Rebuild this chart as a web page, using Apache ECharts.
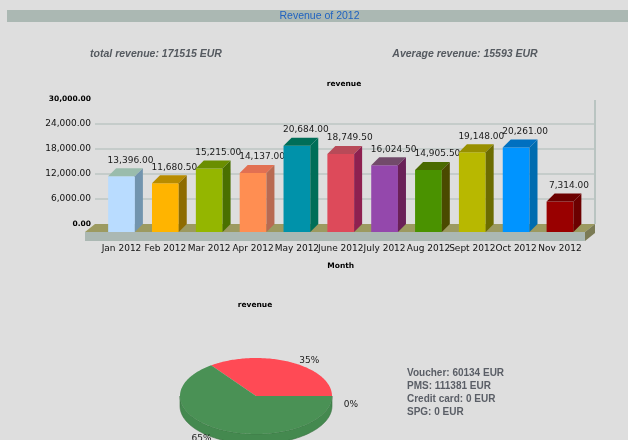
<!DOCTYPE html>
<html>
<head>
<meta charset="utf-8">
<title>Revenue of 2012</title>
<script src="https://cdn.jsdelivr.net/npm/echarts@6.0.0/dist/echarts.min.js"></script>
<style>
  html, body { margin: 0; padding: 0; background: #dedede; }
  #chart { width: 628px; height: 440px; }
</style>
</head>
<body>
<div id="chart"></div>
<script>
// monthly revenue (bar chart)
const months = ['Jan 2012', 'Feb 2012', 'Mar 2012', 'Apr 2012', 'May 2012', 'June 2012',
  'July 2012', 'Aug 2012', 'Sept 2012', 'Oct 2012', 'Nov 2012']
const revenue = [13396, 11680.5, 15215, 14137, 20684, 18749.5, 16024.5, 14905.5, 19148, 20261, 7314]
const yMin = 0
const yMax = 30000
const yStep = 6000

// revenue by payment type (pie)
const payTypes = ['Voucher', 'PMS', 'Credit card', 'SPG']
const payRevenue = [60134, 111381, 0, 0]

const headerTexts = ['total revenue: 171515 EUR', 'Average revenue: 15593 EUR']

// front / top / side colours of each 3d bar
const barPalette = [
  ['#b9dcff', '#9abcac', '#7294ae'],
  ['#ffb400', '#b88c00', '#8e6c00'],
  ['#94b600', '#6a8e00', '#4a7000'],
  ['#ff8e52', '#e27052', '#b86a52'],
  ['#0092aa', '#006e58', '#006e58'],
  ['#dd4a5a', '#b84a58', '#8e2050'],
  ['#9448ac', '#724a6a', '#6a2058'],
  ['#4a9200', '#4a6a00', '#4a4a00'],
  ['#b8b800', '#989000', '#6c6c00'],
  ['#0094ff', '#0070c0', '#006cb0'],
  ['#990000', '#6c0000', '#6c0000']
]
const pieColors = ['#ff4a55', '#4a9155', '#4a6fc4', '#e0a000']
const pieSideColors = ['#d83c46', '#44894f', '#3e5ea8', '#b88400']

const D = 8 // bar depth in px
const fmt = v => v.toFixed(2).replace(/\B(?=(\d{3})+(?!\d))/g, ',')

const chart = echarts.init(document.getElementById('chart'))

const renderBar = (params, api) => {
  const v = api.value(1)
  const top = api.coord([api.value(0), v])
  const base = api.coord([api.value(0), 0])
  const w = api.size([1, 0])[0] * 0.61
  const x0 = top[0] - w / 2
  const x1 = top[0] + w / 2
  const c = barPalette[params.dataIndex]
  return {
    type: 'group',
    children: [
      { type: 'rect', shape: { x: x0, y: top[1], width: w, height: base[1] - top[1] }, style: { fill: c[0] } },
      { type: 'polygon', shape: { points: [[x0, top[1]], [x0 + D, top[1] - D], [x1 + D, top[1] - D], [x1, top[1]]] }, style: { fill: c[1] } },
      { type: 'polygon', shape: { points: [[x1, top[1]], [x1 + D, top[1] - D], [x1 + D, base[1] - D], [x1, base[1]]] }, style: { fill: c[2] } },
      {
        type: 'text',
        style: {
          text: fmt(v), x: top[0] + D + 1, y: top[1] - D - 8,
          textAlign: 'center', textVerticalAlign: 'middle',
          font: '9px "DejaVu Sans"', fill: '#1a1a1a'
        }
      }
    ]
  }
}

// floor and right wall, drawn on the back plane grid
const renderFloor = (params) => {
  const cs = params.coordSys
  const bl = cs.x
  const br = cs.x + cs.width
  const by = cs.y + cs.height
  const fx = 10
  const fy = 8
  const fh = 9
  return {
    type: 'group',
    children: [
      { type: 'line', shape: { x1: br, y1: cs.y + 1, x2: br, y2: by }, style: { stroke: '#b9c4c1', lineWidth: 2 } },
      { type: 'polygon', shape: { points: [[bl, by], [br, by], [br - fx, by + fy], [bl - fx, by + fy]] }, style: { fill: '#9c9a60' } },
      { type: 'rect', shape: { x: bl - fx, y: by + fy, width: cs.width, height: fh }, style: { fill: '#abb8b3' } },
      { type: 'polygon', shape: { points: [[br - fx, by + fy], [br, by], [br, by + fh], [br - fx, by + fy + fh]] }, style: { fill: '#7b7b55' } }
    ]
  }
}

// 3d pie drawn as an ellipse
const pieCx = 256
const pieCy = 396
const pieRx = 76
const pieRy = 38
const pieH = 10
const pieTotal = payRevenue.reduce((a, b) => a + b, 0)

const renderPie = (params, api) => {
  const i = params.dataIndex
  const before = payRevenue.slice(0, i).reduce((a, b) => a + b, 0)
  const a0 = before / pieTotal * Math.PI * 2
  const a1 = (before + api.value(0)) / pieTotal * Math.PI * 2
  const pt = (t, dy) => [pieCx + pieRx * Math.cos(t), pieCy - pieRy * Math.sin(t) + dy]
  const arc = (s, e, dy) => {
    const pts = []
    const n = Math.max(2, Math.ceil((e - s) / 0.02))
    for (let k = 0; k <= n; k++) pts.push(pt(s + (e - s) * k / n, dy))
    return pts
  }
  const children = []
  if (a1 > a0) {
    const s = Math.max(a0, Math.PI)
    const e = Math.min(a1, Math.PI * 2)
    if (e > s) {
      children.push({
        type: 'polygon',
        shape: { points: arc(s, e, 0).concat(arc(s, e, pieH).reverse()) },
        style: { fill: pieSideColors[i], stroke: '#3a7042', lineWidth: 0.6 }
      })
    }
    children.push({
      type: 'polygon',
      shape: { points: [[pieCx, pieCy]].concat(arc(a0, a1, 0)) },
      style: { fill: pieColors[i] }
    })
  }
  // empty slices sharing one angle get a single label
  const dup = api.value(0) === 0 && i > 0 && payRevenue[i - 1] === 0
  if (!dup) {
    const mid = (a0 + a1) / 2
    const edge = pt(mid, 0)
    children.push({
      type: 'text',
      style: {
        text: Math.round(api.value(0) / pieTotal * 100) + '%',
        x: edge[0] + (Math.cos(mid) >= 0 ? 19 : -20),
        y: edge[1] + (Math.sin(mid) > 0.01 ? -1.5 : 8.5),
        textAlign: 'center', textVerticalAlign: 'middle',
        font: '9px "DejaVu Sans"', fill: '#1a1a1a'
      }
    })
  }
  return { type: 'group', children }
}

const legendLines = payTypes.map((name, i) => ({
  type: 'text',
  style: {
    text: name + ': ' + payRevenue[i] + ' EUR',
    x: 407, y: 373.3 + i * 13.1,
    textVerticalAlign: 'middle',
    font: 'bold 10px "Liberation Sans", Arial', fill: '#5a5e66'
  }
}))

const option = {
  animation: false,
  backgroundColor: '#dedede',
  grid: [
    { left: 99.6, right: 46.1, top: 107, bottom: 208 },
    { left: 95, right: 33, top: 99, bottom: 216 }
  ],
  xAxis: [
    {
      type: 'category',
      gridIndex: 0,
      data: months,
      axisLine: { show: false },
      axisTick: { show: false },
      axisLabel: { interval: 0, margin: 12, color: '#111', fontSize: 9, fontFamily: 'DejaVu Sans' },
      name: 'Month',
      nameLocation: 'middle',
      nameGap: 30,
      nameTextStyle: { fontSize: 7.5, fontWeight: 'bold', fontFamily: 'DejaVu Sans', color: '#000' }
    },
    { type: 'value', gridIndex: 1, min: 0, max: 1, show: false }
  ],
  yAxis: [
    { type: 'value', gridIndex: 0, min: yMin, max: yMax, show: false },
    {
      type: 'value',
      gridIndex: 1,
      min: yMin,
      max: yMax,
      interval: yStep,
      axisLine: { show: false },
      axisTick: { show: false },
      axisLabel: {
        margin: 4,
        color: '#111',
        fontSize: 9,
        fontFamily: 'DejaVu Sans',
        formatter: v => (v === yMin || v === yMax) ? '{b|' + fmt(v) + '}' : fmt(v),
        rich: { b: { fontSize: 7.5, fontWeight: 'bold', fontFamily: 'DejaVu Sans', color: '#000' } }
      },
      splitLine: { showMinLine: false, showMaxLine: false, lineStyle: { color: '#bcc6c3', width: 1.5 } }
    }
  ],
  graphic: [
    { type: 'rect', shape: { x: 7, y: 10, width: 621, height: 12 }, style: { fill: '#abb8b3' } },
    {
      type: 'text',
      style: { text: 'Revenue of 2012', x: 319.5, y: 16, textAlign: 'center', textVerticalAlign: 'middle', font: '10.5px "Liberation Sans", Arial', fill: '#1f62c0' }
    },
    {
      type: 'text',
      style: { text: headerTexts[0], x: 156, y: 54.5, textAlign: 'center', textVerticalAlign: 'middle', font: 'italic bold 10.5px "Liberation Sans", Arial', fill: '#555a60' }
    },
    {
      type: 'text',
      style: { text: headerTexts[1], x: 465, y: 54.5, textAlign: 'center', textVerticalAlign: 'middle', font: 'italic bold 10.5px "Liberation Sans", Arial', fill: '#555a60' }
    },
    {
      type: 'text',
      style: { text: 'revenue', x: 344, y: 84, textAlign: 'center', textVerticalAlign: 'middle', font: 'bold 7.5px "DejaVu Sans"', fill: '#000' }
    },
    {
      type: 'text',
      style: { text: 'revenue', x: 255, y: 305, textAlign: 'center', textVerticalAlign: 'middle', font: 'bold 7.5px "DejaVu Sans"', fill: '#000' }
    }
  ].concat(legendLines),
  series: [
    {
      type: 'custom',
      xAxisIndex: 1,
      yAxisIndex: 1,
      z: 1,
      silent: true,
      clip: false,
      data: [[0, 0]],
      renderItem: renderFloor
    },
    {
      type: 'custom',
      xAxisIndex: 0,
      yAxisIndex: 0,
      z: 3,
      clip: false,
      data: revenue.map((v, i) => [i, v]),
      encode: { x: 0, y: 1 },
      renderItem: renderBar
    },
    {
      type: 'custom',
      coordinateSystem: 'none',
      z: 3,
      data: payRevenue.map(v => [v]),
      renderItem: renderPie
    }
  ]
}

chart.setOption(option)
</script>
</body>
</html>
